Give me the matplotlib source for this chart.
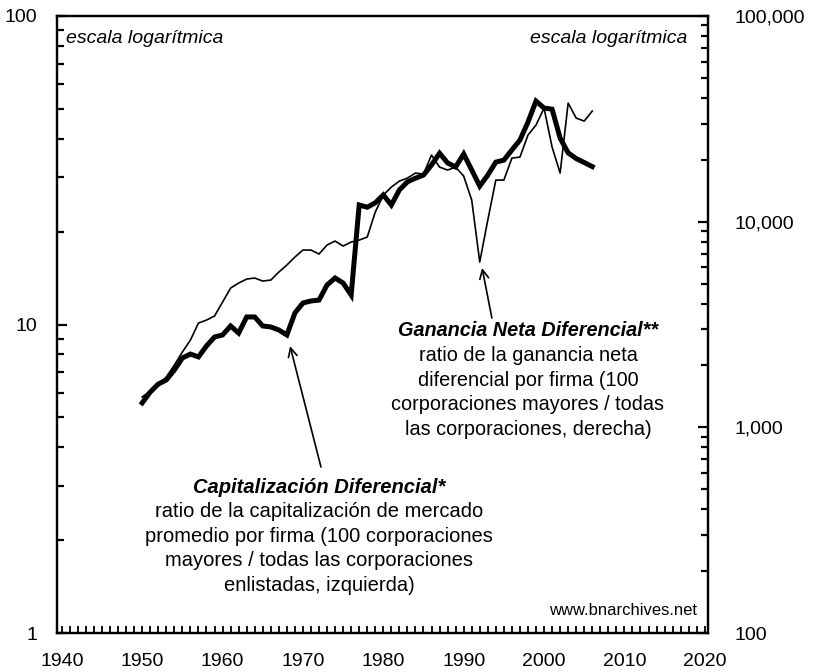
import matplotlib
matplotlib.use("Agg")
import matplotlib.pyplot as plt
from matplotlib.ticker import FixedLocator, NullFormatter, LogLocator
import numpy as np

plt.rcParams['font.family'] = ['Liberation Sans', 'DejaVu Sans']

years = list(range(1950, 2007))

# Capitalización diferencial (left axis)
cap_diff = [5.57, 6.04, 6.41, 6.61, 7.12, 7.79, 8.02, 7.85, 8.52, 9.11,
            9.25, 9.89, 9.38, 10.58, 10.58, 9.89, 9.82, 9.60, 9.25, 10.9,
            11.74, 11.92, 12.0, 13.43, 14.15, 13.63, 12.46, 24.4, 24.0, 24.8,
            26.3, 24.4, 27.3, 29.0, 29.8, 30.5, 32.9, 35.9, 33.4, 32.4,
            35.7, 31.7, 28.1, 30.5, 33.6, 34.1, 36.8, 39.6, 45.3, 53.0,
            50.3, 49.9, 40.2, 36.0, 34.5, 33.5, 32.5]

# Ganancia neta diferencial (right axis)
earn_diff = [1404, 1502, 1624, 1756, 2009, 2323, 2656, 3214, 3323, 3476,
             4064, 4755, 5029, 5260, 5320, 5143, 5200, 5690, 6153, 6729,
             7278, 7278, 6958, 7695, 8050, 7610, 7960, 8136, 8414, 11134,
             13470, 14730, 15750, 16290, 17230, 17040, 21080, 18420, 17820, 18420,
             16660, 12740, 6362, 10180, 15930, 15930, 20380, 20610, 26360, 29490,
             35660, 23050, 17230, 37720, 31880, 30830, 34490]

xticks = [1940, 1950, 1960, 1970, 1980, 1990, 2000, 2010, 2020]
left_ticks = [1, 10, 100]
left_labels = ['1', '10', '100']
right_ticks = [100, 1000, 10000, 100000]
right_labels = ['100', '1,000', '10,000', '100,000']

fig = plt.figure(figsize=(8.13, 6.72), dpi=100)
ax = fig.add_axes([57/813, 1-633/672, 651/813, 617/672])
ax2 = ax.twinx()

ax.plot(years, cap_diff, color='black', lw=3.6, solid_joinstyle='miter', zorder=3)
ax2.plot(years, earn_diff, color='black', lw=1.2, zorder=2)

ax.set_yscale('log')
ax2.set_yscale('log')
ax.set_xlim(1939.4, 2020.4)
ax.set_ylim(1, 100)
ax2.set_ylim(100, 100000)

ax.set_xticks(xticks)
ax.set_xticklabels([str(t) for t in xticks])
ax.xaxis.set_minor_locator(FixedLocator(np.arange(1940, 2021, 1)))
ax.tick_params(axis='x', which='major', direction='in', length=5, width=1.3,
               labelsize=14, pad=14.5, top=False)
ax.tick_params(axis='x', which='minor', direction='in', length=5, width=1.3, top=False)

ax.set_yticks(left_ticks)
ax.set_yticklabels(left_labels)
ax.yaxis.set_minor_locator(LogLocator(base=10, subs=np.arange(2, 10)))
ax.yaxis.set_minor_formatter(NullFormatter())
ax.tick_params(axis='y', which='major', direction='in', length=7, width=1.6,
               labelsize=14, pad=14, right=False)
ax.tick_params(axis='y', which='minor', direction='in', length=5, width=1.6, right=False)

ax2.set_yticks(right_ticks)
ax2.set_yticklabels(right_labels)
ax2.yaxis.set_minor_locator(LogLocator(base=10, subs=np.arange(2, 10)))
ax2.yaxis.set_minor_formatter(NullFormatter())
ax2.tick_params(axis='y', which='major', direction='in', length=7, width=1.6,
                labelsize=14, pad=19)
ax2.tick_params(axis='y', which='minor', direction='in', length=5, width=1.6)

for a in (ax, ax2):
    for s in a.spines.values():
        s.set_linewidth(1.6)

ax.text(0.014, 0.964, 'escala logarítmica', style='italic', fontsize=14,
        ha='left', va='center', transform=ax.transAxes)
ax.text(0.968, 0.964, 'escala logarítmica', style='italic', fontsize=14,
        ha='right', va='center', transform=ax.transAxes)
ax.text(0.983, 0.037, 'www.bnarchives.net', fontsize=12,
        ha='right', va='center', transform=ax.transAxes)

block1 = ['Ganancia Neta Diferencial**', 'ratio de la ganancia neta',
          'diferencial por firma (100', 'corporaciones mayores / todas',
          'las corporaciones, derecha)']
block2 = ['Capitalización Diferencial*', 'ratio de la capitalización de mercado',
          'promedio por firma (100 corporaciones', 'mayores / todas las corporaciones',
          'enlistadas, izquierda)']
dy = 24.6 / 617
for i, line in enumerate(block1):
    kw = dict(style='italic', weight='bold') if i == 0 else {}
    ax.text(0.7235, 0.4895 - i*dy, line, fontsize=14.3, ha='center', va='center',
            transform=ax.transAxes, zorder=5, **kw)
for i, line in enumerate(block2):
    kw = dict(style='italic', weight='bold') if i == 0 else {}
    ax.text(0.4025, 0.2366 - i*dy, line, fontsize=14.5, ha='center', va='center',
            transform=ax.transAxes, zorder=5, **kw)

arrowprops = dict(arrowstyle='->', color='black', lw=1.2, mutation_scale=16,
                  shrinkA=0, shrinkB=0)
ax.annotate('', xy=(0.653, 0.5916), xytext=(0.668, 0.5105),
            xycoords='axes fraction', textcoords='axes fraction', arrowprops=arrowprops)
ax.annotate('', xy=(0.358, 0.465), xytext=(0.4055, 0.269),
            xycoords='axes fraction', textcoords='axes fraction', arrowprops=arrowprops)

fig.savefig('out.png', dpi=100)
